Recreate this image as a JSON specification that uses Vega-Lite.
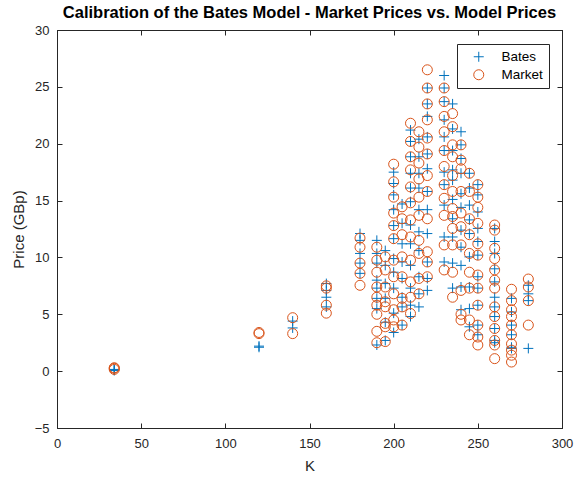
{
"$schema": "https://vega.github.io/schema/vega-lite/v6.json",
"width": 505, "height": 398,
"autosize": {"type": "none"},
"padding": {"left": 57, "top": 30, "right": 14, "bottom": 52},
"background": "white",
"title": {"text": "Calibration of the Bates Model - Market Prices vs. Model Prices", "font": "Liberation Sans", "fontSize": 16.5, "fontWeight": "bold", "color": "#000000", "anchor": "middle", "offset": 3},
"config": {
  "view": {"stroke": "#262626", "strokeWidth": 1},
  "axis": {"domainColor": "#262626", "tickColor": "#262626", "labelColor": "#262626", "titleColor": "#262626", "labelFont": "Liberation Sans", "titleFont": "Liberation Sans", "labelFontSize": 13, "titleFontSize": 15, "titleFontWeight": "normal", "grid": false, "tickSize": -5, "domainWidth": 1, "tickWidth": 1, "labelFlush": false}
},
"data": {"values": [
{"S":"Bates","K":34,"P":0.1},{"S":"Bates","K":34,"P":0.05},{"S":"Bates","K":34,"P":0.15},
{"S":"Bates","K":120,"P":2.1},{"S":"Bates","K":120,"P":2.2},
{"S":"Bates","K":140,"P":4.4},{"S":"Bates","K":140,"P":3.8},
{"S":"Bates","K":160,"P":7.7},{"S":"Bates","K":160,"P":7.1},{"S":"Bates","K":160,"P":6.5},{"S":"Bates","K":160,"P":5.65},
{"S":"Bates","K":180,"P":12.1},{"S":"Bates","K":180,"P":11.5},{"S":"Bates","K":180,"P":10.35},{"S":"Bates","K":180,"P":9.5},{"S":"Bates","K":180,"P":8.6},
{"S":"Bates","K":190,"P":11.5},{"S":"Bates","K":190,"P":10.35},{"S":"Bates","K":190,"P":9.5},{"S":"Bates","K":190,"P":8.0},{"S":"Bates","K":190,"P":7.3},{"S":"Bates","K":190,"P":6.4},{"S":"Bates","K":190,"P":5.5},{"S":"Bates","K":190,"P":2.3},
{"S":"Bates","K":195,"P":10.6},{"S":"Bates","K":195,"P":9.3},{"S":"Bates","K":195,"P":7.7},{"S":"Bates","K":195,"P":6.4},{"S":"Bates","K":195,"P":4.3},{"S":"Bates","K":195,"P":2.7},
{"S":"Bates","K":200,"P":17.5},{"S":"Bates","K":200,"P":16.5},{"S":"Bates","K":200,"P":15.5},{"S":"Bates","K":200,"P":14.2},{"S":"Bates","K":200,"P":12.8},{"S":"Bates","K":200,"P":11.65},{"S":"Bates","K":200,"P":9.9},{"S":"Bates","K":200,"P":8.7},{"S":"Bates","K":200,"P":7.3},{"S":"Bates","K":200,"P":5.1},{"S":"Bates","K":200,"P":3.4},
{"S":"Bates","K":205,"P":14.7},{"S":"Bates","K":205,"P":13.0},{"S":"Bates","K":205,"P":11.2},{"S":"Bates","K":205,"P":9.6},{"S":"Bates","K":205,"P":8.15},{"S":"Bates","K":205,"P":6.5},{"S":"Bates","K":205,"P":5.65},{"S":"Bates","K":205,"P":4.05},
{"S":"Bates","K":210,"P":21.2},{"S":"Bates","K":210,"P":20.2},{"S":"Bates","K":210,"P":18.85},{"S":"Bates","K":210,"P":17.4},{"S":"Bates","K":210,"P":16.1},{"S":"Bates","K":210,"P":14.9},{"S":"Bates","K":210,"P":12.85},{"S":"Bates","K":210,"P":11.2},{"S":"Bates","K":210,"P":9.3},{"S":"Bates","K":210,"P":7.3},{"S":"Bates","K":210,"P":5.8},{"S":"Bates","K":210,"P":4.8},
{"S":"Bates","K":215,"P":20.4},{"S":"Bates","K":215,"P":18.85},{"S":"Bates","K":215,"P":17.4},{"S":"Bates","K":215,"P":16.1},{"S":"Bates","K":215,"P":14.2},{"S":"Bates","K":215,"P":12.25},{"S":"Bates","K":215,"P":10.6},{"S":"Bates","K":215,"P":8.3},{"S":"Bates","K":215,"P":6.8},{"S":"Bates","K":215,"P":5.65},
{"S":"Bates","K":220,"P":24.9},{"S":"Bates","K":220,"P":23.5},{"S":"Bates","K":220,"P":22.4},{"S":"Bates","K":220,"P":20.6},{"S":"Bates","K":220,"P":19.1},{"S":"Bates","K":220,"P":17.8},{"S":"Bates","K":220,"P":15.8},{"S":"Bates","K":220,"P":14.2},{"S":"Bates","K":220,"P":12.1},{"S":"Bates","K":220,"P":9.6},{"S":"Bates","K":220,"P":8.15},{"S":"Bates","K":220,"P":7.1},
{"S":"Bates","K":230,"P":26.0},{"S":"Bates","K":230,"P":24.9},{"S":"Bates","K":230,"P":23.7},{"S":"Bates","K":230,"P":22.1},{"S":"Bates","K":230,"P":20.6},{"S":"Bates","K":230,"P":19.4},{"S":"Bates","K":230,"P":17.5},{"S":"Bates","K":230,"P":16.4},{"S":"Bates","K":230,"P":14.6},{"S":"Bates","K":230,"P":11.8},{"S":"Bates","K":230,"P":9.6},
{"S":"Bates","K":235,"P":23.5},{"S":"Bates","K":235,"P":21.3},{"S":"Bates","K":235,"P":19.4},{"S":"Bates","K":235,"P":17.7},{"S":"Bates","K":235,"P":16.8},{"S":"Bates","K":235,"P":15.1},{"S":"Bates","K":235,"P":13.4},{"S":"Bates","K":235,"P":11.8},{"S":"Bates","K":235,"P":9.5},{"S":"Bates","K":235,"P":7.3},
{"S":"Bates","K":240,"P":21.05},{"S":"Bates","K":240,"P":19.9},{"S":"Bates","K":240,"P":18.7},{"S":"Bates","K":240,"P":17.4},{"S":"Bates","K":240,"P":15.6},{"S":"Bates","K":240,"P":14.4},{"S":"Bates","K":240,"P":12.4},{"S":"Bates","K":240,"P":10.9},{"S":"Bates","K":240,"P":9.3},{"S":"Bates","K":240,"P":7.4},{"S":"Bates","K":240,"P":5.4},
{"S":"Bates","K":245,"P":17.4},{"S":"Bates","K":245,"P":16.1},{"S":"Bates","K":245,"P":14.6},{"S":"Bates","K":245,"P":13.3},{"S":"Bates","K":245,"P":12.1},{"S":"Bates","K":245,"P":10.05},{"S":"Bates","K":245,"P":7.4},{"S":"Bates","K":245,"P":5.5},{"S":"Bates","K":245,"P":3.9},
{"S":"Bates","K":250,"P":16.4},{"S":"Bates","K":250,"P":15.5},{"S":"Bates","K":250,"P":14.0},{"S":"Bates","K":250,"P":12.55},{"S":"Bates","K":250,"P":11.4},{"S":"Bates","K":250,"P":10.2},{"S":"Bates","K":250,"P":8.3},{"S":"Bates","K":250,"P":7.3},{"S":"Bates","K":250,"P":5.8},{"S":"Bates","K":250,"P":4.05},{"S":"Bates","K":250,"P":3.2},
{"S":"Bates","K":260,"P":12.55},{"S":"Bates","K":260,"P":11.4},{"S":"Bates","K":260,"P":10.35},{"S":"Bates","K":260,"P":9.0},{"S":"Bates","K":260,"P":7.85},{"S":"Bates","K":260,"P":6.5},{"S":"Bates","K":260,"P":5.65},{"S":"Bates","K":260,"P":4.8},{"S":"Bates","K":260,"P":3.75},{"S":"Bates","K":260,"P":2.7},{"S":"Bates","K":260,"P":2.5},
{"S":"Bates","K":270,"P":6.4},{"S":"Bates","K":270,"P":5.2},{"S":"Bates","K":270,"P":4.05},{"S":"Bates","K":270,"P":3.2},{"S":"Bates","K":270,"P":2.1},{"S":"Bates","K":270,"P":2.0},
{"S":"Bates","K":280,"P":7.55},{"S":"Bates","K":280,"P":6.8},{"S":"Bates","K":280,"P":6.2},{"S":"Bates","K":280,"P":2.0},
{"S":"Market","K":34,"P":0.25},{"S":"Market","K":34,"P":0.15},{"S":"Market","K":34,"P":0.3},
{"S":"Market","K":120,"P":3.3},{"S":"Market","K":120,"P":3.4},
{"S":"Market","K":140,"P":4.7},{"S":"Market","K":140,"P":3.3},
{"S":"Market","K":160,"P":7.5},{"S":"Market","K":160,"P":7.3},{"S":"Market","K":160,"P":5.8},{"S":"Market","K":160,"P":5.1},
{"S":"Market","K":180,"P":11.7},{"S":"Market","K":180,"P":10.9},{"S":"Market","K":180,"P":9.5},{"S":"Market","K":180,"P":8.6},{"S":"Market","K":180,"P":7.55},
{"S":"Market","K":190,"P":10.9},{"S":"Market","K":190,"P":9.76},{"S":"Market","K":190,"P":8.7},{"S":"Market","K":190,"P":7.4},{"S":"Market","K":190,"P":6.5},{"S":"Market","K":190,"P":5.8},{"S":"Market","K":190,"P":5.0},{"S":"Market","K":190,"P":3.5},{"S":"Market","K":190,"P":2.5},
{"S":"Market","K":195,"P":10.05},{"S":"Market","K":195,"P":8.9},{"S":"Market","K":195,"P":7.4},{"S":"Market","K":195,"P":6.1},{"S":"Market","K":195,"P":5.66},{"S":"Market","K":195,"P":4.2},{"S":"Market","K":195,"P":3.9},{"S":"Market","K":195,"P":2.6},
{"S":"Market","K":200,"P":18.2},{"S":"Market","K":200,"P":16.65},{"S":"Market","K":200,"P":15.3},{"S":"Market","K":200,"P":13.9},{"S":"Market","K":200,"P":12.8},{"S":"Market","K":200,"P":11.65},{"S":"Market","K":200,"P":9.76},{"S":"Market","K":200,"P":8.3},{"S":"Market","K":200,"P":6.8},{"S":"Market","K":200,"P":5.4},{"S":"Market","K":200,"P":4.5},{"S":"Market","K":200,"P":3.9},
{"S":"Market","K":205,"P":14.45},{"S":"Market","K":205,"P":13.4},{"S":"Market","K":205,"P":12.0},{"S":"Market","K":205,"P":10.05},{"S":"Market","K":205,"P":8.3},{"S":"Market","K":205,"P":6.4},{"S":"Market","K":205,"P":5.65},{"S":"Market","K":205,"P":4.05},
{"S":"Market","K":210,"P":21.8},{"S":"Market","K":210,"P":20.2},{"S":"Market","K":210,"P":18.85},{"S":"Market","K":210,"P":17.7},{"S":"Market","K":210,"P":16.2},{"S":"Market","K":210,"P":14.8},{"S":"Market","K":210,"P":13.3},{"S":"Market","K":210,"P":11.8},{"S":"Market","K":210,"P":9.76},{"S":"Market","K":210,"P":7.85},{"S":"Market","K":210,"P":6.5},{"S":"Market","K":210,"P":5.07},
{"S":"Market","K":215,"P":21.05},{"S":"Market","K":215,"P":19.7},{"S":"Market","K":215,"P":18.3},{"S":"Market","K":215,"P":16.9},{"S":"Market","K":215,"P":15.3},{"S":"Market","K":215,"P":13.7},{"S":"Market","K":215,"P":11.5},{"S":"Market","K":215,"P":10.35},{"S":"Market","K":215,"P":8.15},{"S":"Market","K":215,"P":6.8},
{"S":"Market","K":220,"P":26.5},{"S":"Market","K":220,"P":24.9},{"S":"Market","K":220,"P":23.5},{"S":"Market","K":220,"P":22.1},{"S":"Market","K":220,"P":20.5},{"S":"Market","K":220,"P":19.1},{"S":"Market","K":220,"P":17.2},{"S":"Market","K":220,"P":15.8},{"S":"Market","K":220,"P":13.4},{"S":"Market","K":220,"P":10.5},{"S":"Market","K":220,"P":9.6},{"S":"Market","K":220,"P":8.3},
{"S":"Market","K":230,"P":24.9},{"S":"Market","K":230,"P":23.7},{"S":"Market","K":230,"P":22.4},{"S":"Market","K":230,"P":21.05},{"S":"Market","K":230,"P":19.4},{"S":"Market","K":230,"P":18.0},{"S":"Market","K":230,"P":16.4},{"S":"Market","K":230,"P":15.2},{"S":"Market","K":230,"P":13.7},{"S":"Market","K":230,"P":11.1},{"S":"Market","K":230,"P":8.9},
{"S":"Market","K":235,"P":22.65},{"S":"Market","K":235,"P":21.5},{"S":"Market","K":235,"P":19.9},{"S":"Market","K":235,"P":18.85},{"S":"Market","K":235,"P":17.2},{"S":"Market","K":235,"P":15.8},{"S":"Market","K":235,"P":14.3},{"S":"Market","K":235,"P":13.6},{"S":"Market","K":235,"P":12.55},{"S":"Market","K":235,"P":11.1},{"S":"Market","K":235,"P":8.7},{"S":"Market","K":235,"P":6.5},
{"S":"Market","K":240,"P":19.9},{"S":"Market","K":240,"P":18.55},{"S":"Market","K":240,"P":17.8},{"S":"Market","K":240,"P":15.8},{"S":"Market","K":240,"P":13.9},{"S":"Market","K":240,"P":12.7},{"S":"Market","K":240,"P":11.1},{"S":"Market","K":240,"P":7.1},{"S":"Market","K":240,"P":5.0},{"S":"Market","K":240,"P":4.5},
{"S":"Market","K":245,"P":17.4},{"S":"Market","K":245,"P":15.8},{"S":"Market","K":245,"P":13.4},{"S":"Market","K":245,"P":12.0},{"S":"Market","K":245,"P":10.35},{"S":"Market","K":245,"P":8.7},{"S":"Market","K":245,"P":7.3},{"S":"Market","K":245,"P":4.5},{"S":"Market","K":245,"P":3.2},
{"S":"Market","K":250,"P":16.4},{"S":"Market","K":250,"P":15.3},{"S":"Market","K":250,"P":14.4},{"S":"Market","K":250,"P":13.0},{"S":"Market","K":250,"P":11.2},{"S":"Market","K":250,"P":10.2},{"S":"Market","K":250,"P":8.45},{"S":"Market","K":250,"P":7.3},{"S":"Market","K":250,"P":5.8},{"S":"Market","K":250,"P":4.05},{"S":"Market","K":250,"P":3.0},{"S":"Market","K":250,"P":2.3},
{"S":"Market","K":260,"P":12.85},{"S":"Market","K":260,"P":12.4},{"S":"Market","K":260,"P":10.8},{"S":"Market","K":260,"P":9.9},{"S":"Market","K":260,"P":8.9},{"S":"Market","K":260,"P":8.0},{"S":"Market","K":260,"P":7.3},{"S":"Market","K":260,"P":5.65},{"S":"Market","K":260,"P":4.8},{"S":"Market","K":260,"P":3.75},{"S":"Market","K":260,"P":2.7},{"S":"Market","K":260,"P":2.3},{"S":"Market","K":260,"P":1.1},
{"S":"Market","K":270,"P":7.2},{"S":"Market","K":270,"P":6.2},{"S":"Market","K":270,"P":5.4},{"S":"Market","K":270,"P":4.8},{"S":"Market","K":270,"P":4.05},{"S":"Market","K":270,"P":3.2},{"S":"Market","K":270,"P":2.4},{"S":"Market","K":270,"P":1.85},{"S":"Market","K":270,"P":1.4},{"S":"Market","K":270,"P":0.8},
{"S":"Market","K":280,"P":8.1},{"S":"Market","K":280,"P":7.4},{"S":"Market","K":280,"P":6.2},{"S":"Market","K":280,"P":4.05}
]},
"layer": [
  {
    "mark": {"type": "point", "filled": false, "size": 100, "strokeWidth": 1, "opacity": 1},
    "encoding": {
      "x": {"field": "K", "type": "quantitative", "scale": {"domain": [0, 300], "nice": false, "zero": false},
            "axis": {"orient": "bottom", "title": "K", "values": [0, 50, 100, 150, 200, 250, 300], "labelPadding": 14, "titlePadding": 8}},
      "y": {"field": "P", "type": "quantitative", "scale": {"domain": [-5, 30], "nice": false, "zero": false},
            "axis": {"orient": "left", "title": "Price (GBp)", "values": [-5, 0, 5, 10, 15, 20, 25, 30], "labelPadding": 13, "titlePadding": 8}},
      "color": {"field": "S", "type": "nominal", "scale": {"domain": ["Bates", "Market"], "range": ["#0072BD", "#D95319"]},
                "legend": {"title": null, "orient": "none", "legendX": 400, "legendY": 14, "strokeColor": "#262626", "fillColor": "white", "padding": 6, "symbolOffset": 9, "labelOffset": 16, "labelFont": "Liberation Sans", "labelFontSize": 13.5, "labelColor": "#000000", "symbolSize": 100, "symbolStrokeWidth": 1, "rowPadding": 3}},
      "shape": {"field": "S", "type": "nominal", "scale": {"domain": ["Bates", "Market"], "range": ["M-1,0H1M0,-1V1", "circle"]},
                "legend": {"title": null, "orient": "none", "legendX": 400, "legendY": 14, "strokeColor": "#262626", "fillColor": "white", "padding": 6, "symbolOffset": 9, "labelOffset": 16, "labelFont": "Liberation Sans", "labelFontSize": 13.5, "labelColor": "#000000", "symbolSize": 100, "symbolStrokeWidth": 1, "rowPadding": 3}}
    }
  },
  {
    "mark": {"type": "point", "opacity": 0},
    "encoding": {
      "x": {"field": "K", "type": "quantitative", "axis": {"orient": "top", "title": null, "labels": false, "values": [0, 50, 100, 150, 200, 250, 300]}},
      "y": {"field": "P", "type": "quantitative", "axis": {"orient": "right", "title": null, "labels": false, "values": [-5, 0, 5, 10, 15, 20, 25, 30]}}
    }
  }
],
"resolve": {"axis": {"x": "independent", "y": "independent"}}
}
